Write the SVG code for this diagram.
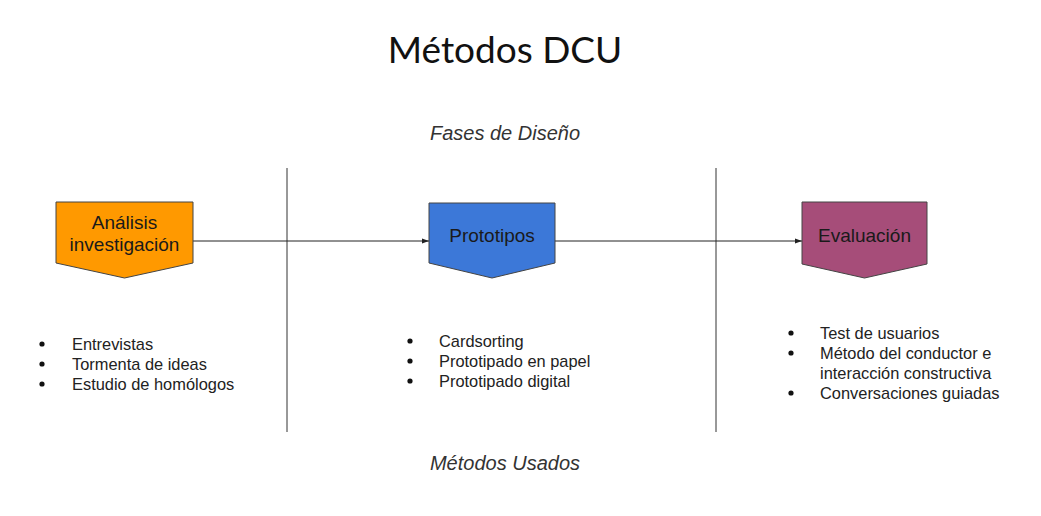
<svg xmlns="http://www.w3.org/2000/svg" width="1041" height="516" viewBox="0 0 1041 516">
<defs>
<marker id="ah" markerWidth="8" markerHeight="8" refX="7" refY="4" orient="auto" markerUnits="userSpaceOnUse"><path d="M0,1.5 L7,4 L0,6.5 Z" fill="#222"/></marker>
<style>
.node{stroke:#444;stroke-width:1}
.nl{font-family:"Liberation Sans",Arial,sans-serif;font-size:19px;fill:#1a1a1a;text-anchor:middle}
.li{font-family:"Liberation Sans",Arial,sans-serif;font-size:16.4px;fill:#222}
.sub{font-family:"Liberation Sans",Arial,sans-serif;font-size:20px;font-style:italic;fill:#333;text-anchor:middle}
.conn{stroke:#222;stroke-width:1;fill:none}
.div{stroke:#333;stroke-width:1}
</style>
</defs>
<rect width="1041" height="516" fill="#fff"/>
<text x="505" y="63" font-family="Lato,'Noto Sans',sans-serif" font-size="37" fill="#111" text-anchor="middle">Métodos DCU</text>
<text class="sub" x="505" y="140">Fases de Diseño</text>
<text class="sub" x="505" y="470">Métodos Usados</text>
<g id="dividers">
<line class="div" x1="287" y1="168" x2="287" y2="432"/>
<line class="div" x1="716" y1="168" x2="716" y2="432"/>
</g>
<g id="connectors">
<line class="conn" x1="193" y1="241" x2="429" y2="241" marker-end="url(#ah)"/>
<line class="conn" x1="555" y1="241" x2="802" y2="241" marker-end="url(#ah)"/>
</g>
<g id="node-analisis">
<path class="node" d="M56,202 L193,202 L193,263 L124.5,278 L56,263 Z" fill="#FF9900"/>
<text class="nl" x="124.5" y="229">Análisis</text>
<text class="nl" x="124.5" y="251">investigación</text>
</g>
<g id="node-prototipos">
<path class="node" d="M429,203 L555,203 L555,263 L492,278 L429,263 Z" fill="#3C78D8"/>
<text class="nl" x="492" y="242">Prototipos</text>
</g>
<g id="node-evaluacion">
<path class="node" d="M802,202 L927,202 L927,264 L864.5,278 L802,264 Z" fill="#A64D79"/>
<text class="nl" x="864.5" y="242">Evaluación</text>
</g>
<g id="list-analisis">
<circle cx="42" cy="344" r="2.6" fill="#111"/><text class="li" x="72" y="350">Entrevistas</text>
<circle cx="42" cy="364" r="2.6" fill="#111"/><text class="li" x="72" y="370">Tormenta de ideas</text>
<circle cx="42" cy="384" r="2.6" fill="#111"/><text class="li" x="72" y="390">Estudio de homólogos</text>
</g>
<g id="list-prototipos">
<circle cx="410" cy="341" r="2.6" fill="#111"/><text class="li" x="439" y="347">Cardsorting</text>
<circle cx="410" cy="361" r="2.6" fill="#111"/><text class="li" x="439" y="367">Prototipado en papel</text>
<circle cx="410" cy="381" r="2.6" fill="#111"/><text class="li" x="439" y="387">Prototipado digital</text>
</g>
<g id="list-evaluacion">
<circle cx="791" cy="333" r="2.6" fill="#111"/><text class="li" x="820" y="339">Test de usuarios</text>
<circle cx="791" cy="353" r="2.6" fill="#111"/><text class="li" x="820" y="359">Método del conductor e</text>
<text class="li" x="820" y="379">interacción constructiva</text>
<circle cx="791" cy="393" r="2.6" fill="#111"/><text class="li" x="820" y="399">Conversaciones guiadas</text>
</g>
</svg>
